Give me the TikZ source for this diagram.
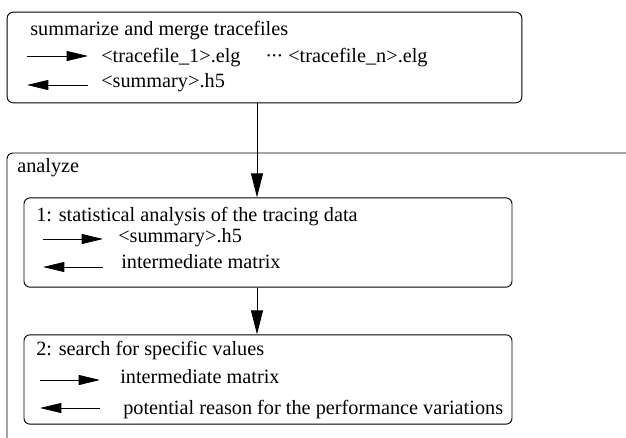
\documentclass[tikz,border=0pt]{standalone}
\usepackage{fontspec}
\setmainfont{Liberation Serif}
\newfontfamily\timesfont{Liberation Serif}
\usetikzlibrary{arrows.meta}

\tikzset{
	stagebox/.style={draw,rectangle,rounded corners=4.5pt,line width=0.7pt},
	label/.style={anchor=base west,inner sep=0pt,font=\timesfont\fontsize{15.2}{17}\selectfont},
	flow/.style={line width=0.7pt,-{Triangle[length=18pt,width=9pt]}},
	inarrow/.style={line width=0.7pt,-{Triangle[length=16pt,width=7.5pt]}},
	outarrow/.style={line width=0.7pt,{Triangle[length=16pt,width=7.5pt]}-},
}

\begin{document}
\begin{tikzpicture}[x=0.75pt,y=-0.75pt]
	\useasboundingbox (0,0) rectangle (626,437);
	\clip (0,0) rectangle (626,437);
	% boxes
	\node[stagebox,minimum width=386pt,minimum height=68pt] (merge) at (264.5,57.5) {};
	\draw[stagebox] (7,153) rectangle (660,470);
	\node[stagebox,minimum width=366pt,minimum height=67pt] (stat) at (268,242.5) {};
	\node[stagebox,minimum width=366pt,minimum height=67pt] (search) at (268,379.5) {};
	\coordinate (link) at (257,0);
	% texts
	\node[label] (t0) at (30,35) {summarize and merge tracefiles};
	\node[label] (t1) at (101,62) {<tracefile\_1>.elg};
	\node[label] (t2) at (265,62) {·\kern-0.8pt·\kern-0.8pt·};
	\node[label] (t3) at (288,62) {<tracefile\_n>.elg};
	\node[label] (t4) at (101,87) {<summary>.h5};
	\node[label] (ana) at (17,172) {analyze};
	\node[label] (s0) at (36,221) {1: statistical analysis of the tracing data};
	\node[label] (s1) at (118,242) {<summary>.h5};
	\node[label] (s2) at (121,268) {intermediate matrix};
	\node[label] (r0) at (36,355) {2: search for specific values};
	\node[label] (r1) at (120,383) {intermediate matrix};
	\node[label] (r2) at (123,414) {potential reason for the performance variations};
	% arrows
	\draw[flow] (merge.south -| link) -- (stat.north -| link);
	\draw[flow] (stat.south -| link) -- (search.north -| link);
	\draw[inarrow] (27,56) -- (88,56);
	\draw[outarrow] (27,85) -- (88,85);
	\draw[inarrow] (43,239) -- (103,239);
	\draw[outarrow] (43,267) -- (103,267);
	\draw[inarrow] (40,380) -- (100,380);
	\draw[outarrow] (40,408) -- (100,408);
\end{tikzpicture}
\end{document}
